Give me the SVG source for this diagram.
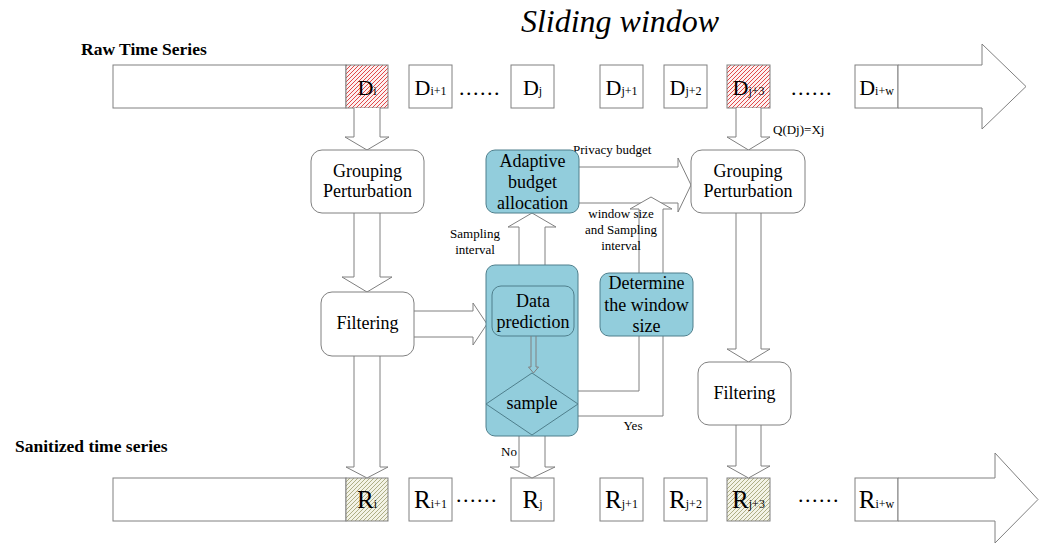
<svg xmlns="http://www.w3.org/2000/svg" width="1042" height="544" viewBox="0 0 1042 544">
<style>
  text { font-family: "Liberation Serif", "Times New Roman", serif; fill: #000; }
  .ttl { font-weight: bold; font-size: 17.5px; }
  .box { fill: #fff; stroke: #808080; stroke-width: 1; }
  .cell { fill: #fff; stroke: #808080; stroke-width: 1; }
  .teal { fill: #92CDDC; stroke: #4F7F8C; stroke-width: 1; }
  .blk { fill: #fff; stroke: #808080; stroke-width: 1; }
  .ln { fill: none; stroke: #808080; stroke-width: 1; }
  .node { font-size: 18px; text-anchor: middle; }
  .lbl { font-size: 13px; }
  .d { font-size: 22px; text-anchor: middle; }
  .r { font-size: 25px; text-anchor: middle; }
  .sub { font-size: 12px; }
  .dots { font-size: 22px; letter-spacing: 1.5px; }
  .big { font-size: 32px; font-style: italic; text-anchor: middle; }
</style>
<defs>
  <pattern id="hatchRed" patternUnits="userSpaceOnUse" width="4" height="4">
    <rect width="4" height="4" fill="#FDF0F0"/>
    <path d="M-1,1 l2,-2 M0,4 l4,-4 M3,5 l2,-2" stroke="#E04848" stroke-width="1"/>
  </pattern>
  <pattern id="hatchGreen" patternUnits="userSpaceOnUse" width="4" height="4">
    <rect width="4" height="4" fill="#F3F3E6"/>
    <path d="M-1,1 l2,-2 M0,4 l4,-4 M3,5 l2,-2" stroke="#A6A67A" stroke-width="0.9"/>
  </pattern>
</defs>

<text class="big" x="620" y="32">Sliding window</text>
<text class="ttl" x="81" y="55">Raw Time Series</text>
<text class="ttl" x="15" y="452">Sanitized time series</text>

<!-- Raw time series row -->
<g id="raw-series">
  <rect class="cell" x="113" y="65" width="233" height="43"/>
  <rect x="346" y="65" width="42" height="43" fill="url(#hatchRed)" stroke="#808080"/>
  <text class="d" x="367" y="95">D<tspan class="sub">i</tspan></text>
  <rect class="cell" x="409" y="65" width="43" height="43"/>
  <text class="d" x="430.5" y="95">D<tspan class="sub">i+1</tspan></text>
  <text class="dots" x="459" y="95">......</text>
  <rect class="cell" x="511" y="65" width="43" height="43"/>
  <text class="d" x="532.5" y="95">D<tspan class="sub">j</tspan></text>
  <rect class="cell" x="600" y="65" width="43" height="43"/>
  <text class="d" x="621.5" y="95">D<tspan class="sub">j+1</tspan></text>
  <rect class="cell" x="664" y="65" width="43" height="43"/>
  <text class="d" x="685.5" y="95">D<tspan class="sub">j+2</tspan></text>
  <rect x="727" y="65" width="43" height="43" fill="url(#hatchRed)" stroke="#808080"/>
  <text class="d" x="748.5" y="95">D<tspan class="sub">j+3</tspan></text>
  <text class="dots" x="791" y="95">......</text>
  <rect class="cell" x="855" y="65" width="43" height="43"/>
  <text class="d" x="876.5" y="95">D<tspan class="sub">i+w</tspan></text>
  <path class="blk" d="M898,65 H982 V44 L1026,86.5 L982,129 V108 H898 Z"/>
</g>

<!-- Sanitized time series row -->
<g id="sanitized-series">
  <rect class="cell" x="113" y="478" width="233" height="43"/>
  <rect x="346" y="478" width="42" height="43" fill="url(#hatchGreen)" stroke="#808080"/>
  <text class="r" x="367" y="508">R<tspan class="sub">i</tspan></text>
  <rect class="cell" x="409" y="478" width="43" height="43"/>
  <text class="r" x="430.5" y="508">R<tspan class="sub">i+1</tspan></text>
  <text class="dots" x="456" y="502">......</text>
  <rect class="cell" x="511" y="478" width="43" height="43"/>
  <text class="r" x="532.5" y="508">R<tspan class="sub">j</tspan></text>
  <rect class="cell" x="600" y="478" width="43" height="43"/>
  <text class="r" x="621.5" y="508">R<tspan class="sub">j+1</tspan></text>
  <rect class="cell" x="664" y="478" width="43" height="43"/>
  <text class="r" x="685.5" y="508">R<tspan class="sub">j+2</tspan></text>
  <rect x="727" y="478" width="43" height="43" fill="url(#hatchGreen)" stroke="#808080"/>
  <text class="r" x="748.5" y="508">R<tspan class="sub">j+3</tspan></text>
  <text class="dots" x="798" y="502">......</text>
  <rect class="cell" x="855" y="478" width="43" height="43"/>
  <text class="r" x="876.5" y="508">R<tspan class="sub">i+w</tspan></text>
  <path class="blk" d="M898,478 H995 V453 L1038,499.5 L995,543 V521 H898 Z"/>
</g>

<!-- Connectors -->
<g id="connectors">
  <path class="blk" d="M354,108 V137 H345 L367,150 L389,137 H380 V108"/>
  <path class="blk" d="M354,213 V277 H342 L367,292 L392,277 H380 V213"/>
  <path class="blk" d="M354,356 V467 H346 L367,478 L388,467 H380 V356"/>
  <path class="blk" d="M736,108 V137 H727 L748.5,150 L770,137 H761 V108"/>
  <path class="blk" d="M736,213 V349 H727 L748.5,362 L770,349 H761 V213"/>
  <path class="blk" d="M736,425 V466 H727 L748.5,478 L770,466 H761 V425"/>
  <path class="blk" d="M413,311 H473 V303 L487,324 L473,345 V337 H413"/>
  <path class="blk" d="M579,167 H678 V158 L691,185 L678,212 V203 H579"/>
  <path class="blk" d="M519,265 V227 H508 L532,213 L556,227 H545 V265"/>
  <path class="blk" d="M519,436 V467 H510 L532,478 L555,467 H545 V436"/>
  <path class="blk" d="M639,273 V209 H630 L651,197 L672,209 H663 V273"/>
  <path class="ln" d="M639,336 V391 H578"/>
  <path class="ln" d="M663,336 V416 H578"/>
  <text class="lbl" x="573" y="154" font-size="13.5">Privacy budget</text>
  <text class="lbl" x="475" y="238" text-anchor="middle">Sampling</text>
  <text class="lbl" x="475" y="254" text-anchor="middle">interval</text>
  <text class="lbl" x="621" y="218" text-anchor="middle">window size</text>
  <text class="lbl" x="621" y="234" text-anchor="middle">and Sampling</text>
  <text class="lbl" x="621" y="250" text-anchor="middle">interval</text>
  <text class="lbl" x="773" y="134">Q(Dj)=Xj</text>
  <text class="lbl" x="633" y="430" text-anchor="middle">Yes</text>
  <text class="lbl" x="509" y="456" text-anchor="middle">No</text>
</g>

<g id="grouping-left">
  <rect class="box" x="311" y="150" width="113" height="63" rx="11"/>
  <text class="node" x="367.5" y="177">Grouping</text>
  <text class="node" x="367.5" y="197">Perturbation</text>
</g>
<g id="filtering-left">
  <rect class="box" x="321" y="292" width="93" height="64" rx="11"/>
  <text class="node" x="367.5" y="329">Filtering</text>
</g>
<g id="adaptive-budget">
  <rect class="teal" x="486" y="150" width="93" height="63" rx="9"/>
  <text class="node" x="532.5" y="167">Adaptive</text>
  <text class="node" x="532.5" y="188">budget</text>
  <text class="node" x="532.5" y="209">allocation</text>
</g>
<g id="prediction-container">
  <rect class="teal" x="486" y="265" width="92" height="171" rx="9"/>
</g>
<g id="data-prediction">
  <rect class="teal" x="492" y="286" width="82" height="50" rx="9"/>
  <text class="node" x="533" y="307">Data</text>
  <text class="node" x="533" y="328">prediction</text>
</g>
<g id="pred-to-sample">
  <path class="ln" d="M531,336 V367 H528.5 L533.5,373 L538.5,367 H536 V336" fill="#92CDDC"/>
</g>
<g id="sample">
  <polygon points="532,373 578,404 532,435 486,404" fill="#92CDDC" stroke="#4F7F8C" stroke-width="1"/>
  <text class="node" x="532" y="409">sample</text>
</g>
<g id="determine-window">
  <rect class="teal" x="600" y="273" width="93" height="63" rx="9"/>
  <text class="node" x="646.5" y="289">Determine</text>
  <text class="node" x="646.5" y="311">the window</text>
  <text class="node" x="646.5" y="332">size</text>
</g>
<g id="grouping-right">
  <rect class="box" x="691" y="150" width="114" height="63" rx="11"/>
  <text class="node" x="748" y="177">Grouping</text>
  <text class="node" x="748" y="197">Perturbation</text>
</g>
<g id="filtering-right">
  <rect class="box" x="698" y="362" width="93" height="63" rx="11"/>
  <text class="node" x="744.5" y="399">Filtering</text>
</g>
</svg>
